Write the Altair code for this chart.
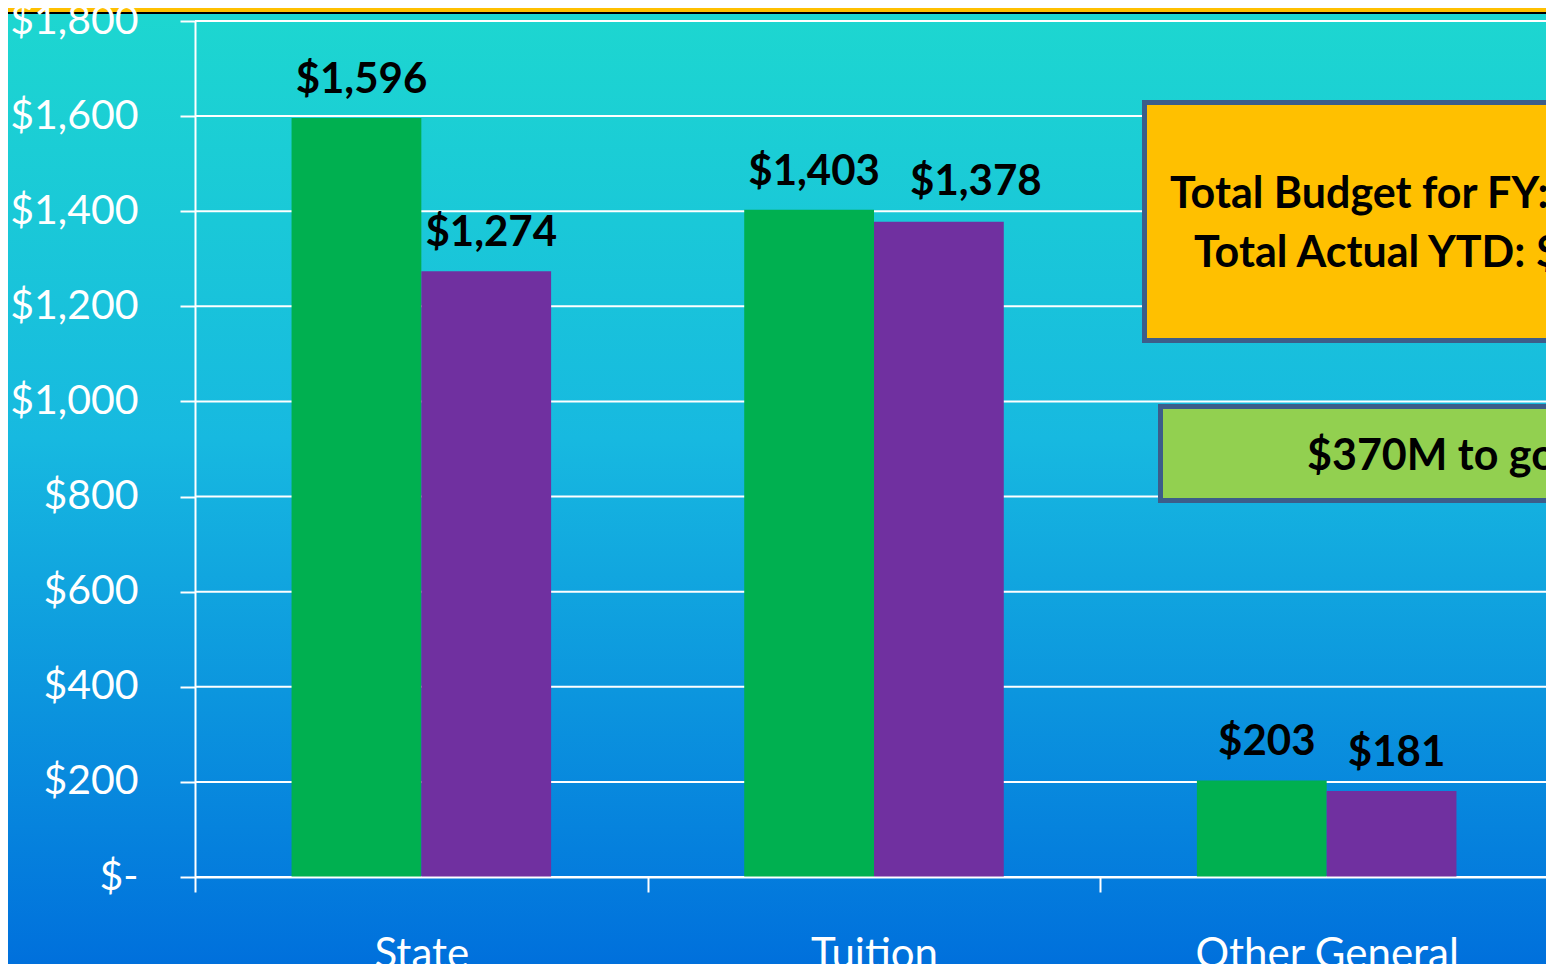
import altair as alt
import pandas as pd

# ---- data ----
categories = ["State", "Tuition", "Other General"]
series = ["Budget", "Actual YTD"]
budget = [1596, 1403, 203]
actual = [1274, 1378, 181]
y_ticks = [0, 200, 400, 600, 800, 1000, 1200, 1400, 1600, 1800]
box1_lines = ["Total Budget for FY: $3,202M", "Total Actual YTD: $2,833M"]
box2_text = "$370M to go"

rows = []
for c, b, a in zip(categories, budget, actual):
    rows.append({"cat": c, "series": series[0], "value": b})
    rows.append({"cat": c, "series": series[1], "value": a})
df = pd.DataFrame(rows)
ticks_df = pd.DataFrame({"value": y_ticks})
one = pd.DataFrame({"k": [0]})

W, H = 1351, 856
XR = 1358
PL, PT, PR, PB = 187, 13, 0, 87
FONT = "Lato"

GREEN = "#00B050"
PURPLE = "#7030A0"
BORDER = "#3C5D8A"

x_scale = alt.Scale(domain=categories, range=[0, XR], paddingInner=0, paddingOuter=0)
x_enc = alt.X("cat:N", sort=categories, scale=x_scale,
              axis=alt.Axis(title=None, labelAngle=0, labelFont=FONT, labelFontSize=42,
                            labelColor="white", labelBaseline="alphabetic", labelPadding=75,
                            labelLimit=0, tickBand="extent", tickSize=15, tickColor="white",
                            tickWidth=2, domainColor="white", domainWidth=2, grid=False,
                            zindex=1))
xoff = alt.XOffset("series:N", sort=series,
                   scale=alt.Scale(paddingInner=0, paddingOuter=0.744))
y_axis = alt.Axis(title=None, values=y_ticks, grid=False, labelFont=FONT,
                  labelFontSize=41, labelColor="white", labelPadding=42,
                  labelExpr="datum.value == 0 ? '$-' : '$' + format(datum.value, ',')",
                  tickSize=15, tickColor="white", tickWidth=2,
                  domainColor="white", domainWidth=2, zindex=1)
y_scale = alt.Scale(domain=[0, 1800], nice=False)
y_enc = alt.Y("value:Q", scale=y_scale, axis=y_axis)

bg = alt.Chart(one).mark_rect(
    fill=alt.LinearGradient(gradient="linear", x1=0, y1=0, x2=0, y2=1, stops=[
        alt.GradientStop(offset=0, color="#1DD7D0"),
        alt.GradientStop(offset=0.45, color="#17B9E0"),
        alt.GradientStop(offset=1, color="#0070DC"),
    ])
).encode(x=alt.value(-PL), x2=alt.value(W + 10), y=alt.value(-PT), y2=alt.value(H + PB))

stripe_o = alt.Chart(one).mark_rect(fill="#FFC000").encode(
    x=alt.value(-PL), x2=alt.value(W + 10), y=alt.value(-PT), y2=alt.value(-PT + 4))
stripe_b = alt.Chart(one).mark_rect(fill="black").encode(
    x=alt.value(-PL), x2=alt.value(W + 10), y=alt.value(-PT + 4), y2=alt.value(-PT + 6))

grid = alt.Chart(ticks_df).mark_rule(color="white", strokeWidth=2).encode(
    y=y_enc, x=alt.value(0), x2=alt.value(W + 10))

bars = alt.Chart(df).mark_bar().encode(
    x=x_enc, xOffset=xoff, y=y_enc,
    color=alt.Color("series:N", sort=series,
                    scale=alt.Scale(domain=series, range=[GREEN, PURPLE]), legend=None))

lbl_expr = "'$' + format(datum.value, ',')"
labels = alt.Chart(df).transform_filter(
    "!(datum.cat == 'Tuition' && datum.series == 'Actual YTD')"
).transform_calculate(t=lbl_expr).mark_text(
    font=FONT, fontSize=42, fontWeight="bold", color="black", baseline="alphabetic", dy=-25, dx=5
).encode(x=x_enc, xOffset=xoff, y=y_enc, text="t:N")

labels2 = alt.Chart(df).transform_filter(
    "datum.cat == 'Tuition' && datum.series == 'Actual YTD'"
).transform_calculate(t=lbl_expr).mark_text(
    font=FONT, fontSize=42, fontWeight="bold", color="black", baseline="alphabetic", dy=-27, dx=37
).encode(x=x_enc, xOffset=xoff, y=y_enc, text="t:N")

box1 = alt.Chart(one).mark_rect(fill="#FFC000", stroke=BORDER, strokeWidth=5).encode(
    x=alt.value(949.5), x2=alt.value(W + 60), y=alt.value(81.5), y2=alt.value(319.5))
box1_t1 = alt.Chart(one).mark_text(font=FONT, fontSize=43, fontWeight="bold", color="black",
                                   align="left", baseline="alphabetic").encode(
    x=alt.value(975), y=alt.value(187), text=alt.value(box1_lines[0]))
box1_t2 = alt.Chart(one).mark_text(font=FONT, fontSize=43, fontWeight="bold", color="black",
                                   align="left", baseline="alphabetic").encode(
    x=alt.value(999), y=alt.value(246), text=alt.value(box1_lines[1]))

box2 = alt.Chart(one).mark_rect(fill="#92D050", stroke=BORDER, strokeWidth=5).encode(
    x=alt.value(965.5), x2=alt.value(W + 60), y=alt.value(385.5), y2=alt.value(479.5))
box2_t = alt.Chart(one).mark_text(font=FONT, fontSize=43, fontWeight="bold", color="black",
                                  align="left", baseline="alphabetic").encode(
    x=alt.value(1112), y=alt.value(449), text=alt.value(box2_text))

chart = alt.layer(
    bg, stripe_o, stripe_b, grid, bars, labels, labels2, box1, box1_t1, box1_t2, box2, box2_t
).resolve_scale(y="shared").properties(
    width=W, height=H,
    padding={"left": PL, "top": PT, "right": PR, "bottom": PB},
    autosize=alt.AutoSizeParams(type="none"),
).configure_view(stroke=None)

chart.save("out.html", embed_options={"renderer": "svg", "actions": False})
